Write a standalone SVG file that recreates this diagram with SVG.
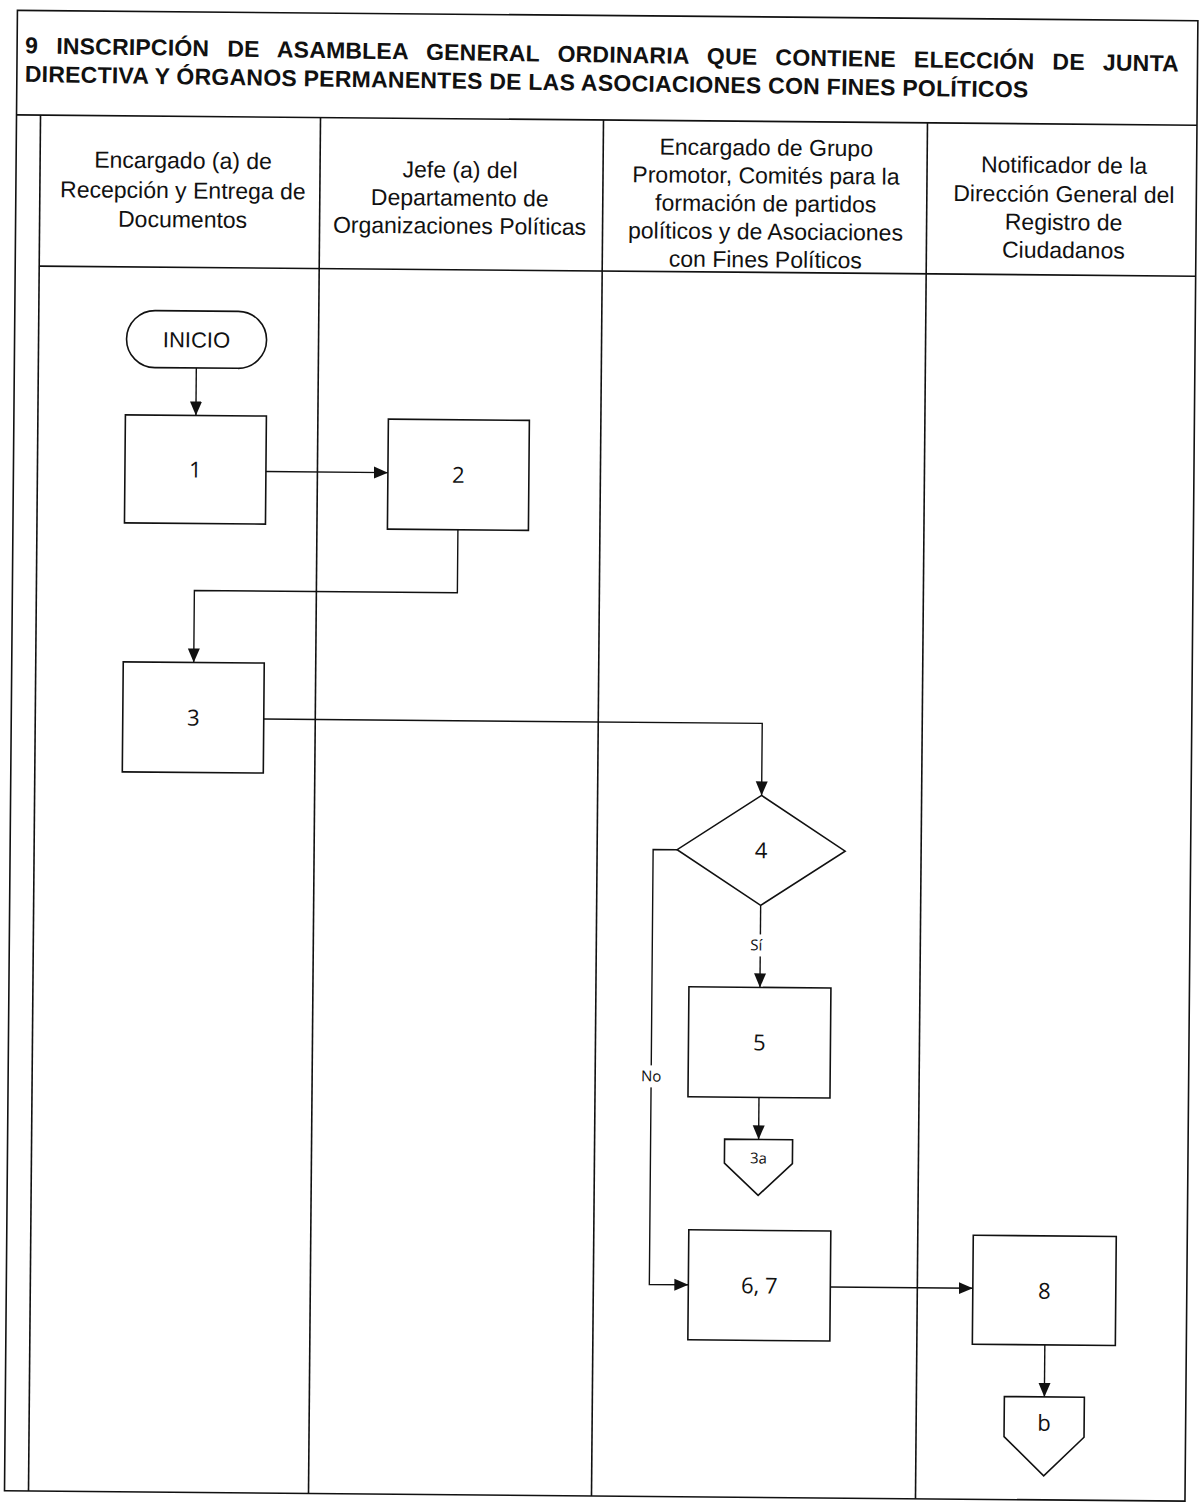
<svg xmlns="http://www.w3.org/2000/svg" width="1199" height="1504" viewBox="0 0 1199 1504">
<style>
.frame{fill:none;stroke:#111;stroke-width:1.6}
.node{fill:#fff;stroke:#111;stroke-width:1.6}
.conn{fill:none;stroke:#111;stroke-width:1.4}
.title{font-family:"Liberation Sans",Arial,sans-serif;font-weight:bold;font-size:23px;fill:#111}
.lane{font-family:"Liberation Sans",Arial,sans-serif;font-size:23px;fill:#111;text-anchor:middle}
.num{font-family:"Open Sans","Noto Sans",sans-serif;font-size:22px;fill:#111;text-anchor:middle}
.small{font-family:"Open Sans","Noto Sans",sans-serif;font-size:15px;fill:#111;text-anchor:middle}
.start{font-family:"Liberation Sans",Arial,sans-serif;font-size:22px;fill:#111;text-anchor:middle}
</style>
<defs>
<marker id="arr" markerUnits="userSpaceOnUse" markerWidth="15" markerHeight="13" refX="14" refY="6.5" orient="auto">
<path d="M0,0.5 L14,6.5 L0,12.5 z" fill="#111"/>
</marker>
</defs>
<rect width="1199" height="1504" fill="#fff"/>
<g transform="rotate(0.5 600 750)">
<g id="frame">
<rect class="frame" x="11" y="15.5" width="1180.5" height="1480.5"/>
<line class="frame" x1="11" y1="120" x2="1191.5" y2="120"/>
<line class="frame" x1="35" y1="271" x2="1191.5" y2="271"/>
<line class="frame" x1="35" y1="120" x2="35" y2="1496"/>
<line class="frame" x1="315" y1="120" x2="315" y2="1496"/>
<line class="frame" x1="598" y1="120" x2="598" y2="1496"/>
<line class="frame" x1="922" y1="120" x2="922" y2="1496"/>
</g>
<g id="title" transform="rotate(0.4 607 64)">
<text class="title" x="19" y="62.5" word-spacing="11.5" letter-spacing="0.2">9 INSCRIPCIÓN DE ASAMBLEA GENERAL ORDINARIA QUE CONTIENE ELECCIÓN DE JUNTA</text>
<text class="title" x="19" y="91" letter-spacing="0.25">DIRECTIVA Y ÓRGANOS PERMANENTES DE LAS ASOCIACIONES CON FINES POLÍTICOS</text>
</g>
<g id="lane-headers">
<text class="lane" x="178"><tspan x="178" y="172">Encargado (a) de</tspan><tspan x="178" y="202">Recepción y Entrega de</tspan><tspan x="178" y="231">Documentos</tspan></text>
<text class="lane" x="455"><tspan x="455" y="179">Jefe (a) del</tspan><tspan x="455" y="207">Departamento de</tspan><tspan x="455" y="235">Organizaciones Políticas</tspan></text>
<text class="lane" x="761"><tspan x="761" y="154">Encargado de Grupo</tspan><tspan x="761" y="182">Promotor, Comités para la</tspan><tspan x="761" y="210">formación de partidos</tspan><tspan x="761" y="238">políticos y de Asociaciones</tspan><tspan x="761" y="266">con Fines Políticos</tspan></text>
<text class="lane" x="1059"><tspan x="1059" y="169">Notificador de la</tspan><tspan x="1059" y="198">Dirección General del</tspan><tspan x="1059" y="226">Registro de</tspan><tspan x="1059" y="254">Ciudadanos</tspan></text>
</g>
<g id="connectors">
<path class="conn" d="M193,371.5 V419" marker-end="url(#arr)"/>
<path class="conn" d="M263.5,474.5 H385.5" marker-end="url(#arr)"/>
<path class="conn" d="M456,531 V594 H193 V666" marker-end="url(#arr)"/>
<path class="conn" d="M263.5,722 H762 V794" marker-end="url(#arr)"/>
<path class="conn" d="M762,904 V986" marker-end="url(#arr)"/>
<path class="conn" d="M762,1096 V1138" marker-end="url(#arr)"/>
<path class="conn" d="M678,849 H654 V1284 H693" marker-end="url(#arr)"/>
<path class="conn" d="M835,1285 H977.5" marker-end="url(#arr)"/>
<path class="conn" d="M1050,1341 V1393" marker-end="url(#arr)"/>
<rect x="749" y="933" width="20" height="22" fill="#fff"/>
<text class="small" x="758" y="949">Sí</text>
<rect x="640" y="1065" width="28" height="22" fill="#fff"/>
<text class="small" x="654" y="1081">No</text>
</g>
<g id="inicio">
<rect class="node" x="123" y="314.5" width="140" height="57" rx="28.5"/>
<text class="start" x="193" y="351">INICIO</text>
</g>
<g id="n1">
<rect class="node" x="122.5" y="419" width="141" height="108"/>
<text class="num" x="193" y="481">1</text>
</g>
<g id="n2">
<rect class="node" x="385.5" y="421" width="141" height="110"/>
<text class="num" x="456" y="484">2</text>
</g>
<g id="n3">
<rect class="node" x="122.5" y="666" width="141" height="110"/>
<text class="num" x="193" y="729">3</text>
</g>
<g id="n4">
<polygon class="node" points="762,794 846,849 762,904 678,849"/>
<text class="num" x="762" y="857">4</text>
</g>
<g id="n5">
<rect class="node" x="691" y="986" width="142" height="110"/>
<text class="num" x="762" y="1049">5</text>
</g>
<g id="c3a">
<polygon class="node" points="728,1138 796,1138 796,1162 762,1194 728,1162"/>
<text class="small" x="762" y="1162">3a</text>
</g>
<g id="n67">
<rect class="node" x="693" y="1229" width="142" height="110"/>
<text class="num" x="764" y="1292">6, 7</text>
</g>
<g id="n8">
<rect class="node" x="977.5" y="1232" width="143" height="109"/>
<text class="num" x="1049" y="1295">8</text>
</g>
<g id="cb">
<polygon class="node" points="1010,1393 1090,1393 1090,1433 1050,1472 1010,1433"/>
<text class="num" x="1050" y="1427">b</text>
</g>
</g>
</svg>
